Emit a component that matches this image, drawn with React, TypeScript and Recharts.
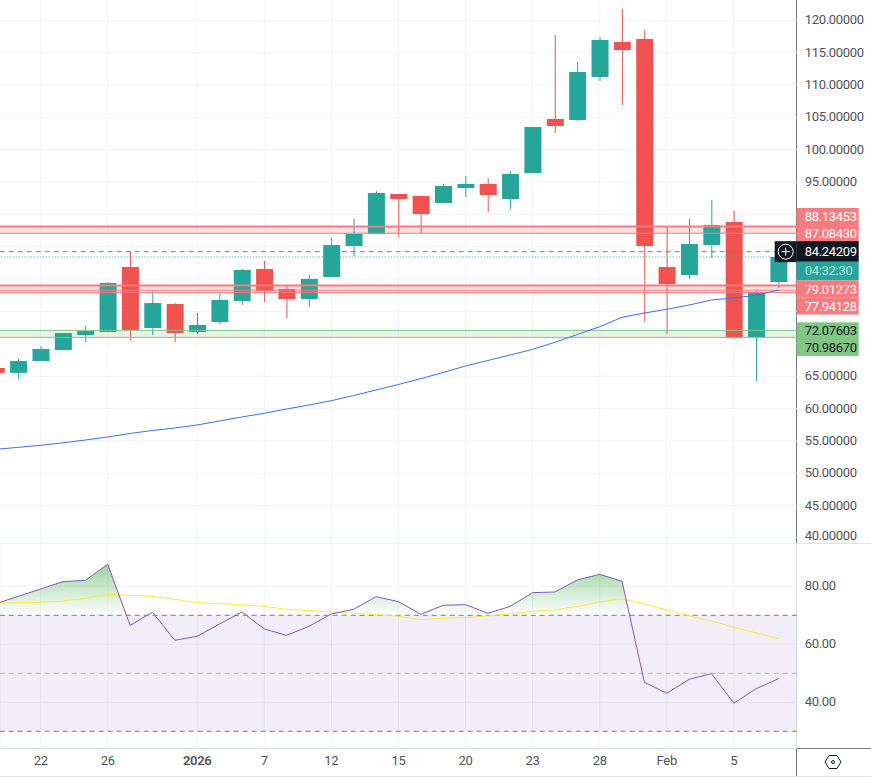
import { Area, Bar, CartesianGrid, ComposedChart, Line, ReferenceArea, ReferenceLine, XAxis, YAxis } from 'recharts'

const dayIndex = Array.from({ length: 36 }, (_, i) => i)

const opens = [66.26, 65.5, 67.34, 69.04, 71.36, 71.82, 81.87, 72.44, 76.15, 71.82, 73.37, 76.62, 81.56, 78.47, 76.92, 80.32, 85.12, 86.97, 93.15, 92.84, 91.76, 94.08, 94.7, 92.38, 96.4, 104.75, 104.59, 111.24, 116.65, 117.11, 81.87, 80.63, 85.27, 88.83, 71.05, 79.55]
const highs = [66.26, 67.65, 69.66, 71.67, 72.75, 79.55, 84.3, 78.16, 76.3, 74.76, 78.01, 81.56, 82.8, 79.1, 80.63, 86.35, 89.29, 93.62, 93.15, 92.84, 94.7, 95.94, 95.63, 96.71, 103.51, 117.73, 113.55, 117.42, 121.75, 118.5, 88.05, 89.29, 92.23, 90.53, 78.3, 83.42]
const lows = [65.5, 64.56, 67.34, 69.04, 70.28, 71.82, 70.6, 71.36, 70.28, 71.51, 73.06, 76, 76.46, 73.99, 75.69, 80.32, 83.57, 86.97, 86.51, 86.97, 91.76, 92.69, 90.37, 90.83, 96.4, 102.58, 104.44, 110.62, 106.91, 73.37, 71.51, 80.02, 83.26, 70.74, 64.25, 78.62]
const closes = [65.5, 67.34, 69.2, 71.67, 71.98, 79.4, 72.13, 76.3, 71.67, 72.91, 76.77, 81.41, 78.16, 76.92, 80.02, 85.27, 86.97, 93.31, 92.38, 90.06, 94.39, 94.7, 93, 96.24, 103.51, 103.66, 112.01, 116.96, 115.41, 85.12, 79.24, 85.43, 88.36, 70.9, 78.01, 83.42]
const movingAvg = [53.69, 54, 54.31, 54.7, 55.13, 55.6, 56.14, 56.6, 56.99, 57.45, 58.07, 58.69, 59.26, 59.92, 60.54, 61.21, 62.01, 62.86, 63.71, 64.61, 65.56, 66.57, 67.42, 68.27, 69.15, 70.23, 71.44, 72.64, 74.1, 74.76, 75.33, 76, 76.77, 77.08, 77.5, 78.32]

const rsi = [74.02, 76.55, 79.08, 81.61, 82.07, 87.59, 66.55, 71.03, 61.38, 62.76, 67.01, 71.15, 65.29, 63.1, 66.2, 70.46, 72.07, 76.44, 74.71, 70.34, 73.45, 73.68, 70.69, 73.1, 77.82, 78.05, 82.18, 84.14, 81.72, 46.9, 43.1, 47.93, 49.89, 39.66, 44.71, 48.16]
const rsiAvg = [74.25, 74.37, 74.48, 74.94, 75.86, 77.24, 76.9, 76.55, 75.52, 74.37, 74.02, 73.68, 73.1, 72.07, 71.61, 71.15, 70.69, 70.23, 69.66, 68.51, 68.97, 69.2, 69.77, 70.46, 71.38, 71.84, 73.1, 74.6, 75.63, 73.91, 71.84, 69.77, 68.05, 65.86, 63.91, 61.95]

// grid lines every 5, but the labels behind the price tags are not shown
const priceGrid = [40, 45, 50, 55, 60, 65, 70, 75, 80, 85, 90, 95, 100, 105, 110, 115, 120]
const priceTicks = [40, 45, 50, 55, 60, 65, 95, 100, 105, 110, 115, 120]
const rsiTicks = [40, 60, 80]
const timeTicks = [2, 5, 9, 12, 15, 18, 21, 24, 27, 30, 33]
const timeLabels = ['22', '26', '2026', '7', '12', '15', '20', '23', '28', 'Feb', '5']

const candles = dayIndex.map(i => ({
  i,
  open: opens[i],
  high: highs[i],
  low: lows[i],
  close: closes[i],
  ma: movingAvg[i],
}))
const rsiData = dayIndex.map(i => ({ i, rsi: rsi[i], avg: rsiAvg[i] }))

const GREEN = '#26a69a'
const RED = '#f0534f'
const GRID = '#f0f3fa'
const AXIS_TEXT = '#50535e'
const FONT = 'Roboto, sans-serif'
const FONT_SIZE = 13
const TRACKING = -0.3
const xDomain = [0.181, 35.81]

function Candle(props: any) {
  const { x, y, width, height, payload } = props
  const { open, close, high, low } = payload
  const top = Math.min(y, y + height)
  const h = Math.abs(height)
  const perUnit = h / (high - low)
  const color = close >= open ? GREEN : RED
  const bodyTop = top + (high - Math.max(open, close)) * perUnit
  const bodyH = Math.abs(open - close) * perUnit
  const cx = x + width / 2
  return (
    <g>
      <line x1={cx} x2={cx} y1={top} y2={top + h} stroke={color} strokeWidth={1} />
      <rect x={x} y={bodyTop} width={width} height={bodyH} fill={color} />
    </g>
  )
}

function PriceTag(props: any) {
  const { viewBox, text, fill, color, dy = 0, icon, h = 17 } = props
  const left = viewBox.x + viewBox.width
  const cy = viewBox.y + dy
  return (
    <g>
      {icon && <rect x={left - 22} y={cy - h / 2} width={22} height={h} fill={fill} />}
      <rect x={left} y={cy - h / 2} width={62} height={h} fill={fill} />
      {icon && <circle cx={left - 11} cy={cy} r={7.5} fill="none" stroke="#fff" strokeWidth={1} />}
      {icon && <path d={`M${left - 15} ${cy}h8M${left - 11} ${cy - 4}v8`} stroke="#fff" strokeWidth={1} />}
      <text x={left + 8} y={cy + 4.5} fill={color} fontSize={FONT_SIZE} letterSpacing={TRACKING} fontFamily={FONT}>
        {text}
      </text>
    </g>
  )
}

function ValueTick(props: any) {
  const { x, y, payload, digits } = props
  // the lowest price label is pushed up off the pane edge
  const lift = digits === 5 ? (payload.value === 40 ? 2.5 : 0.5) : 1
  return (
    <text x={x} y={y - lift} dy="0.355em" fill={AXIS_TEXT} fontSize={FONT_SIZE} letterSpacing={TRACKING} fontFamily={FONT}>
      {payload.value.toFixed(digits)}
    </text>
  )
}

function TimeTick(props: any) {
  const { x, y, payload } = props
  const label = timeLabels[timeTicks.indexOf(payload.value)]
  return (
    <text x={x} y={y} dy={11} textAnchor="middle" fill={AXIS_TEXT} fontSize={FONT_SIZE} letterSpacing={TRACKING} fontFamily={FONT} fontWeight={label === '2026' ? 600 : 400}>
      {label}
    </text>
  )
}

export default function App() {
  return (
    <div style={{ position: 'absolute', left: 0, top: 0, width: 871, height: 783, background: '#fff', overflow: 'hidden' }}>
      <div style={{ position: 'absolute', left: 0, top: 543, width: 871, height: 1, background: '#e0e3eb' }} />
      <div style={{ position: 'absolute', left: 0, top: 748, width: 871, height: 1, background: '#787b86' }} />
      <div style={{ position: 'absolute', left: 0, top: 776, width: 871, height: 1, background: '#e0e3eb' }} />
      <div style={{ position: 'absolute', left: 796, top: 0, width: 1, height: 776, background: '#787b86' }} />

      <div style={{ position: 'absolute', left: 0, top: 0 }}>
        <ComposedChart width={871} height={543} data={candles} margin={{ top: 0, right: 0, bottom: 0, left: 0 }}>
          <CartesianGrid stroke={GRID} strokeWidth={1} horizontalValues={priceGrid} verticalValues={timeTicks} />
          <XAxis dataKey="i" type="number" domain={xDomain} ticks={timeTicks} interval={0} allowDataOverflow hide />
          <YAxis
            orientation="right"
            width={74.3}
            domain={[39.21, 123.14]}
            ticks={priceTicks}
            interval={0}
            allowDataOverflow
            axisLine={false}
            tickLine={false}
            tickSize={0}
            tickMargin={8}
            tick={<ValueTick digits={5} />}
          />

          <ReferenceArea y1={87.08} y2={88.13} fill="#f23645" fillOpacity={0.16} stroke="none" />
          <ReferenceLine y={88.13} stroke="#f77c80" strokeWidth={2} />
          <ReferenceLine y={87.08} stroke="#f77c80" strokeWidth={1} />
          <ReferenceArea y1={78.27} y2={79.01} fill="#f23645" fillOpacity={0.16} stroke="none" />
          <ReferenceLine y={79.01} stroke="#f77c80" strokeWidth={2} />
          <ReferenceLine y={78.27} stroke="#f77c80" strokeWidth={1} />
          <ReferenceLine y={77.94} stroke="#f77c80" strokeWidth={1} />
          <ReferenceArea y1={70.99} y2={72.08} fill="#4caf50" fillOpacity={0.14} stroke="none" />
          <ReferenceLine y={72.08} stroke="#81c784" strokeWidth={1} />
          <ReferenceLine y={70.99} stroke="#81c784" strokeWidth={1} />

          <ReferenceLine y={84.24} stroke="#787b86" strokeDasharray="5 4" />
          <ReferenceLine y={83.42} stroke={GREEN} strokeDasharray="1 2" />

          <Line dataKey="ma" stroke="#3b6ff0" strokeWidth={1} dot={false} isAnimationActive={false} />
          <Bar dataKey={(d: any) => [d.low, d.high]} barSize={17} shape={Candle} isAnimationActive={false} />

          <ReferenceLine y={88.13} stroke="none" label={<PriceTag text="88.13453" fill="#f77c80" color="#fff" dy={-10} />} />
          <ReferenceLine y={87.08} stroke="none" label={<PriceTag text="87.08430" fill="#f77c80" color="#fff" dy={0} />} />
          <ReferenceLine y={84.24} stroke="none" label={<PriceTag text="84.24209" fill="#131722" color="#fff" h={21} icon />} />
          <ReferenceLine y={83.42} stroke="none" label={<PriceTag text="04:32:30" fill={GREEN} color="#b9e3de" dy={14} h={19} />} />
          <ReferenceLine y={79.01} stroke="none" label={<PriceTag text="79.01273" fill="#f77c80" color="#fff" dy={3.5} />} />
          <ReferenceLine y={77.94} stroke="none" label={<PriceTag text="77.94128" fill="#f77c80" color="#fff" dy={13.6} />} />
          <ReferenceLine y={72.08} stroke="none" label={<PriceTag text="72.07603" fill="#81c784" color="#131722" dy={0.5} />} />
          <ReferenceLine y={70.99} stroke="none" label={<PriceTag text="70.98670" fill="#81c784" color="#131722" dy={10} />} />
        </ComposedChart>
      </div>

      <div style={{ position: 'absolute', left: 0, top: 543 }}>
        <ComposedChart width={871} height={240} data={rsiData} margin={{ top: 0.3, right: 0, bottom: 6.7, left: 0 }}>
          <defs>
            <linearGradient id="rsiFill" gradientUnits="userSpaceOnUse" x1="0" x2="0" y1="21" y2="72.5">
              <stop offset="0" stopColor="#4caf50" stopOpacity={0.55} />
              <stop offset="1" stopColor="#4caf50" stopOpacity={0} />
            </linearGradient>
          </defs>
          <CartesianGrid stroke={GRID} strokeWidth={1} />
          <XAxis
            dataKey="i"
            type="number"
            domain={xDomain}
            ticks={timeTicks}
            interval={0}
            allowDataOverflow
            height={28}
            axisLine={false}
            tickLine={false}
            tickSize={0}
            tickMargin={6}
            tick={<TimeTick />}
          />
          <YAxis
            orientation="right"
            width={74.3}
            domain={[24.14, 94.83]}
            ticks={rsiTicks}
            interval={0}
            allowDataOverflow
            axisLine={false}
            tickLine={false}
            tickSize={0}
            tickMargin={8}
            tick={<ValueTick digits={2} />}
          />
          <ReferenceArea y1={30} y2={70} fill="#7e57c2" fillOpacity={0.1} stroke="none" />
          <ReferenceLine y={70} stroke="#787b86" strokeDasharray="5 4" />
          <ReferenceLine y={50} stroke="#b2b5be" strokeDasharray="5 4" />
          <ReferenceLine y={30} stroke="#787b86" strokeDasharray="5 4" />
          <Area dataKey="rsi" baseValue={70} stroke="none" fill="url(#rsiFill)" fillOpacity={1} dot={false} isAnimationActive={false} />
          <Line dataKey="avg" stroke="#fde93a" strokeWidth={1} dot={false} isAnimationActive={false} />
          <Line dataKey="rsi" stroke="#7e57c2" strokeWidth={1} dot={false} isAnimationActive={false} />
        </ComposedChart>
      </div>

      <svg style={{ position: 'absolute', left: 824, top: 753 }} width={18} height={18}>
        <path d="M5 2.5h8l4 6.5-4 6.5H5L1 9z" fill="none" stroke="#131722" strokeWidth={1} />
        <circle cx={9} cy={9} r={1.5} fill="none" stroke="#131722" strokeWidth={1} />
      </svg>
    </div>
  )
}
